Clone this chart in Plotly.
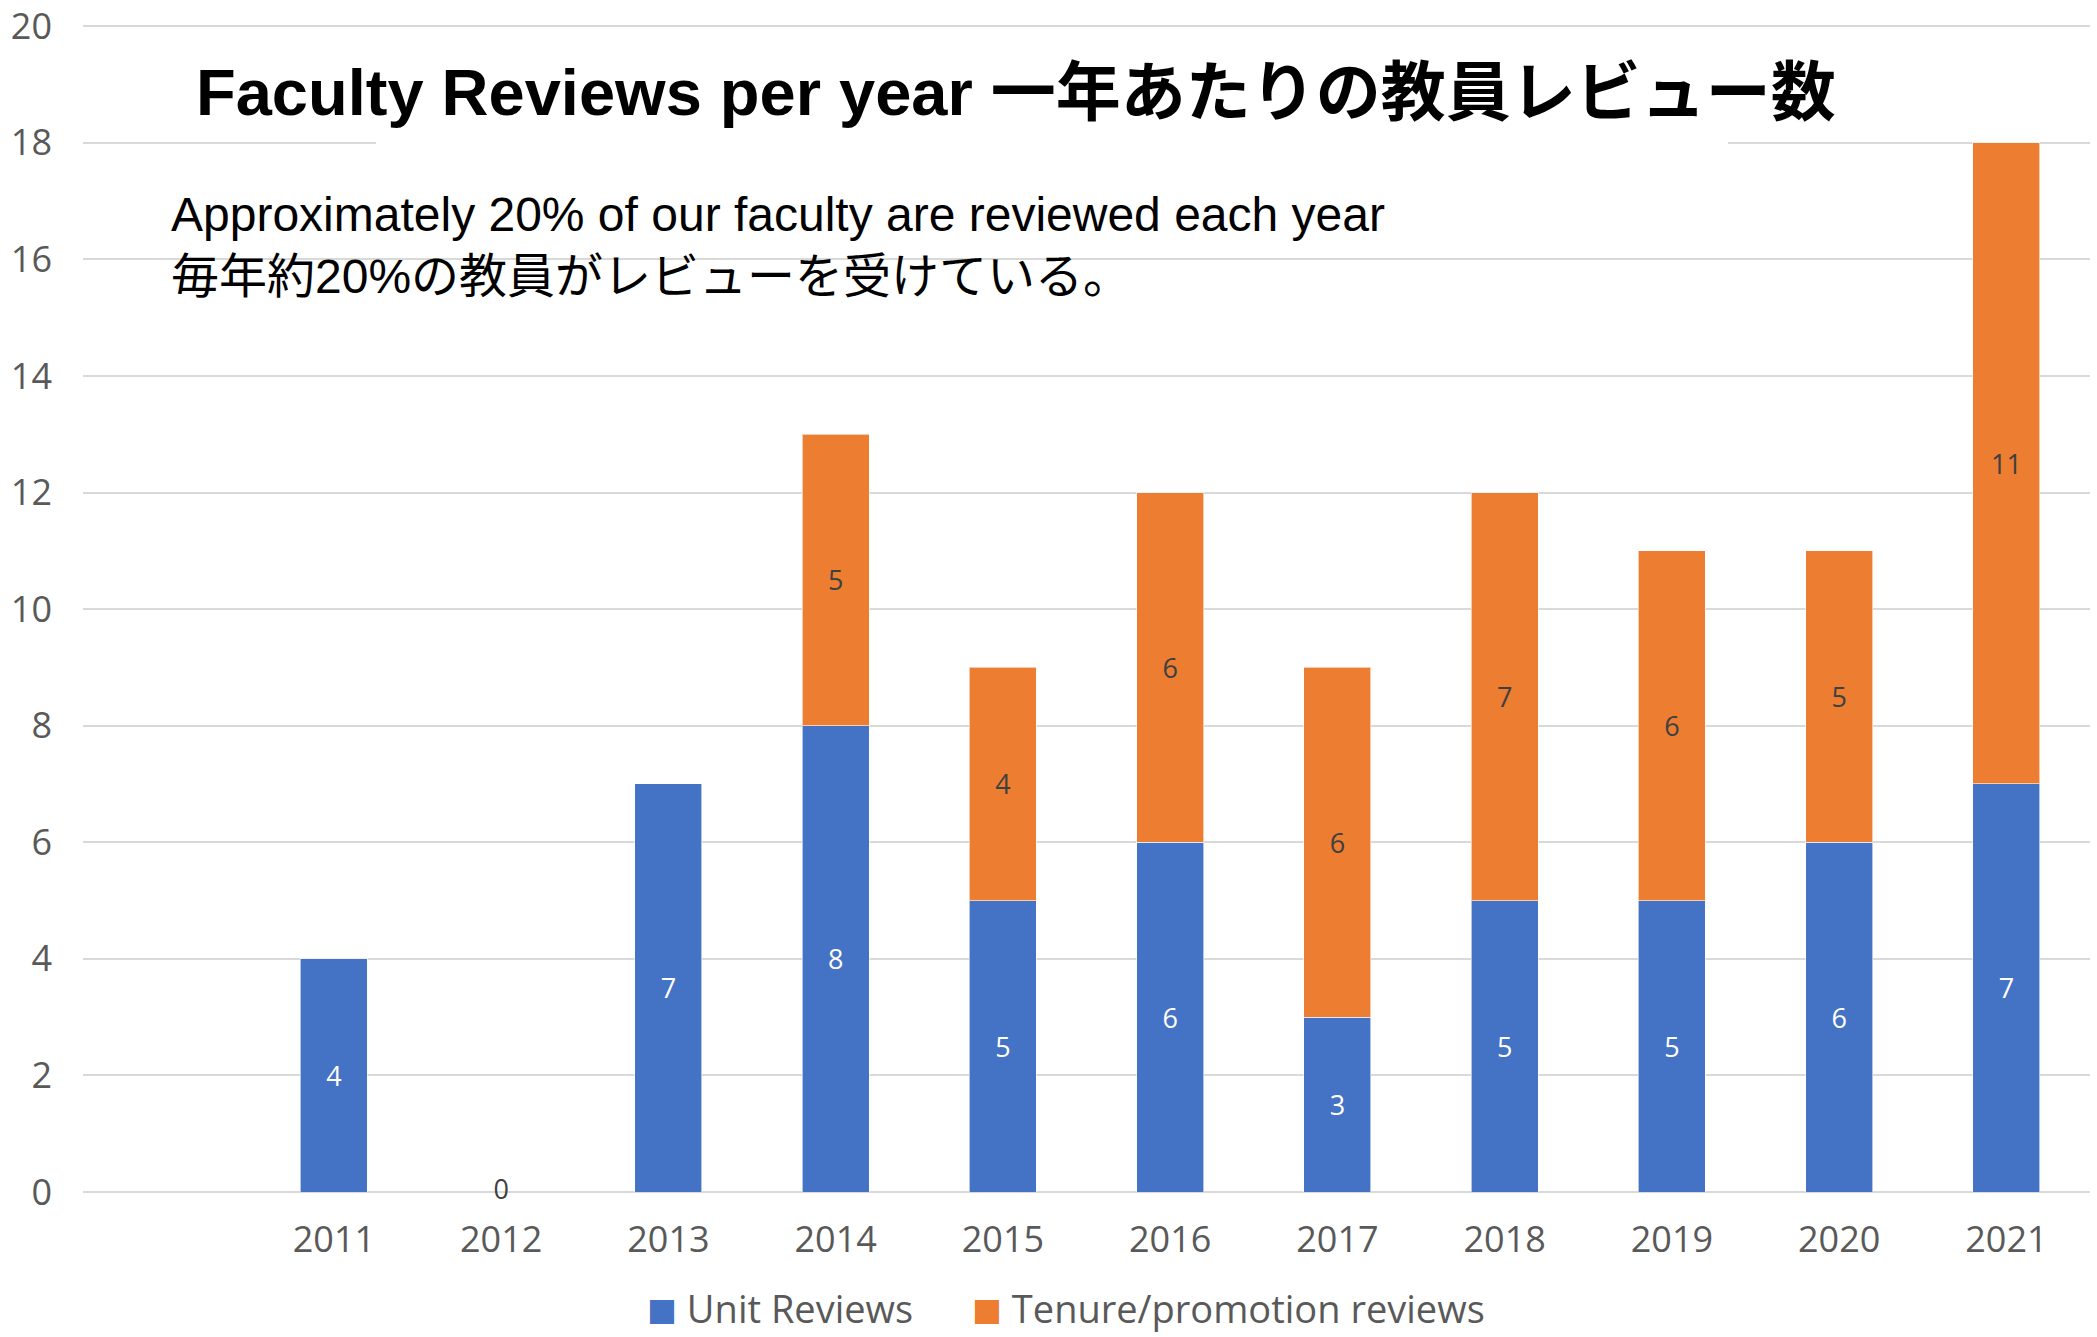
import plotly.graph_objects as go

# ---------- data ----------
years = [2011, 2012, 2013, 2014, 2015, 2016, 2017, 2018, 2019, 2020, 2021]
unit_reviews = [4, 0, 7, 8, 5, 6, 3, 5, 5, 6, 7]
tenure_reviews = [None, None, None, 5, 4, 6, 6, 7, 6, 5, 11]
tick_labels = [str(y) for y in years]
series_names = ["Unit Reviews", "Tenure/promotion reviews"]

TITLE = "Faculty Reviews per year 一年あたりの教員レビュー数"
SUBTITLE = ("Approximately 20% of our faculty are reviewed each year<br>"
            "毎年約20%の教員がレビューを受けている。")

BLUE = "#4472C4"
ORANGE = "#ED7D31"
GREY = "#595959"
LABEL = "#404040"
TICK_FONT = "Open Sans, Noto Sans CJK JP, sans-serif"
TEXT_FONT = "Liberation Sans, Arial, Noto Sans CJK JP, sans-serif"


def lbl(vals):
    return [str(v) if v else "" for v in vals]


fig = go.Figure()
for name, vals, color, tcolor in [(series_names[0], unit_reviews, BLUE, "white"),
                                  (series_names[1], tenure_reviews, ORANGE, LABEL)]:
    fig.add_trace(go.Bar(
        x=years, y=vals, name=name, width=0.4, showlegend=False,
        marker=dict(color=color, line=dict(color="rgba(255,255,255,0.6)", width=1)),
        text=lbl(vals), textposition="inside", insidetextanchor="middle",
        textangle=0, constraintext="none",
        textfont=dict(family=TICK_FONT, size=27, color=tcolor)))

# zero-height bars get their "0" label sitting on the axis
zx = [x for x, v in zip(years, unit_reviews) if v == 0]
fig.add_trace(go.Scatter(
    x=zx, y=[0] * len(zx), mode="text", text=["0"] * len(zx),
    textposition="middle center", showlegend=False, cliponaxis=False,
    textfont=dict(family=TICK_FONT, size=27, color=LABEL), hoverinfo="skip"))

# white text box behind the title (hides part of the gridline)
fig.add_shape(type="rect", xref="paper", yref="y", x0=0.146, x1=0.8196,
              y0=17.6, y1=19.7, fillcolor="white", line_width=0, layer="above")

fig.add_annotation(text=f"<b>{TITLE}</b>", xref="paper", yref="paper",
                   x=0.465, y=0.942, xanchor="center", yanchor="middle",
                   showarrow=False,
                   font=dict(family=TEXT_FONT, size=65, color="black"))
fig.add_annotation(text=SUBTITLE, xref="paper", yref="paper",
                   x=0.043, y=0.811, xanchor="left", yanchor="middle",
                   align="left", showarrow=False,
                   font=dict(family=TEXT_FONT, size=48, color="black"))

# legend (Office style: big square swatches)
for name, color, lx in [(series_names[0], BLUE, 0.280), (series_names[1], ORANGE, 0.442)]:
    fig.add_annotation(
        text=f'<span style="color:{color};font-size:30px">■</span> {name}',
        xref="paper", yref="paper", x=lx, y=-0.099, xanchor="left",
        yanchor="middle", showarrow=False,
        font=dict(family=TICK_FONT, size=38, color=GREY))

fig.update_layout(
    barmode="stack",
    width=2097, height=1337,
    margin=dict(l=83, r=7, t=25, b=145),
    plot_bgcolor="white", paper_bgcolor="white",
    showlegend=False,
    xaxis=dict(range=[2009.5, 2021.5], tickmode="array", tickvals=years,
               ticktext=tick_labels, showgrid=False, zeroline=False,
               showline=False, ticks="", ticklabelstandoff=23, automargin=False,
               tickfont=dict(family=TICK_FONT, size=36, color=GREY)),
    yaxis=dict(range=[0, 20.02], tickmode="linear", tick0=0, dtick=2,
               showgrid=True, gridcolor="#D9D9D9",
               gridwidth=2, zeroline=True, zerolinecolor="#D9D9D9",
               zerolinewidth=2, showline=False, ticks="", ticklabelstandoff=30,
               ticklabeloverflow="allow", automargin=False,
               tickfont=dict(family=TICK_FONT, size=36, color=GREY)),
)

fig.write_html("out.html", config={"displayModeBar": False},
               post_script="document.body.style.margin='0px';")
